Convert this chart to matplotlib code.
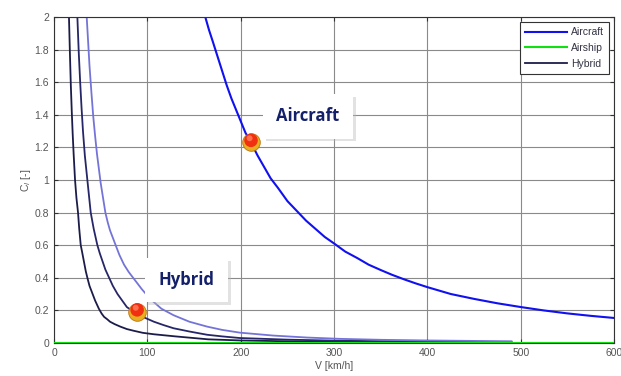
import matplotlib
matplotlib.use("Agg")
import matplotlib.pyplot as plt
import matplotlib.patheffects as pe
from matplotlib.transforms import offset_copy

# values
v_aircraft = [162, 166, 170, 175, 180, 185, 190, 195, 200, 205, 211, 218,
              225, 232, 240, 250, 260, 270, 280, 290, 300, 312, 325, 337,
              350, 362, 375, 387, 400, 425, 450, 475, 500, 525, 550, 575, 600]
cl_aircraft = [2.0, 1.92, 1.85, 1.76, 1.67, 1.58, 1.50, 1.43, 1.36, 1.29,
               1.23, 1.15, 1.08, 1.01, 0.95, 0.87, 0.81, 0.75, 0.70, 0.65,
               0.61, 0.56, 0.52, 0.48, 0.447, 0.418, 0.39, 0.366, 0.342,
               0.30, 0.27, 0.243, 0.22, 0.199, 0.181, 0.166, 0.153]

v_airship = [0, 600]
cl_airship = [0.0, 0.0]

v_hyb_low = [16, 17, 18, 19, 20, 21, 22.5, 24, 25.7, 27, 28.6, 30, 32, 34,
             35.7, 38, 40, 44, 48, 51, 53.6, 57, 60, 65, 71, 78, 85, 95, 107,
             130, 165, 200, 250, 300, 400, 490]
cl_hyb_low = [2.0, 1.78, 1.58, 1.42, 1.28, 1.16, 1.0, 0.89, 0.8, 0.7, 0.6,
              0.56, 0.5, 0.44, 0.4, 0.35, 0.32, 0.26, 0.21, 0.18, 0.16, 0.145,
              0.13, 0.115, 0.10, 0.085, 0.075, 0.062, 0.053, 0.04, 0.022,
              0.015, 0.01, 0.007, 0.004, 0.003]

v_hyb_mid = [25, 26.5, 28, 29.5, 31, 33, 35.7, 37.5, 39.3, 42.5, 46.4, 49,
             52, 55, 59, 63, 68, 73, 78, 83, 89, 97, 107, 117, 128, 145, 164,
             180, 199, 250, 300, 400, 490]
cl_hyb_mid = [2.0, 1.78, 1.6, 1.44, 1.3, 1.15, 1.0, 0.9, 0.8, 0.7, 0.6, 0.55,
              0.5, 0.45, 0.4, 0.35, 0.3, 0.26, 0.22, 0.2, 0.18, 0.155, 0.13,
              0.11, 0.09, 0.07, 0.05, 0.04, 0.03, 0.02, 0.014, 0.008, 0.005]

v_hyb_high = [35, 36.5, 38, 40, 42, 44, 46, 48, 50, 52.5, 55, 57.5, 60, 63,
              66, 70, 75, 80, 86, 94, 103, 115, 128, 145, 164, 180, 199, 235,
              271, 306, 350, 400, 490]
cl_hyb_high = [2.0, 1.85, 1.7, 1.54, 1.39, 1.27, 1.16, 1.07, 0.98, 0.89, 0.8,
               0.74, 0.69, 0.645, 0.6, 0.54, 0.48, 0.435, 0.39, 0.33, 0.27,
               0.21, 0.17, 0.13, 0.10, 0.08, 0.063, 0.045, 0.033, 0.025,
               0.019, 0.015, 0.01]

x_ticks = [0, 100, 200, 300, 400, 500, 600]
y_ticks = [0, 0.2, 0.4, 0.6, 0.8, 1, 1.2, 1.4, 1.6, 1.8, 2]
y_labels = ["0", "0.2", "0.4", "0.6", "0.8", "1", "1.2", "1.4", "1.6", "1.8", "2"]

# design points with callouts
pts = [(211, 1.23, "Aircraft", 272, 1.39), (89, 0.19, "Hybrid", 142, 0.385)]

plt.rcParams['font.family'] = ['Liberation Sans', 'DejaVu Sans']

fig = plt.figure(figsize=(6.21, 3.76), dpi=100)
ax = fig.add_axes([0.087, 0.088, 0.902, 0.867])

ax.plot(v_aircraft, cl_aircraft, color='#1010f0', lw=1.5, label='Aircraft')
ax.plot(v_airship, cl_airship, color='#10e010', lw=1.5, label='Airship', zorder=4)
ax.plot(v_hyb_low, cl_hyb_low, color='#1c1c4a', lw=1.3, label='Hybrid')
ax.plot(v_hyb_mid, cl_hyb_mid, color='#262668', lw=1.3)
ax.plot(v_hyb_high, cl_hyb_high, color='#7474d8', lw=1.3)

ax.set_xlim(0, 600)
ax.set_ylim(0, 2)
ax.set_xticks(x_ticks)
ax.set_yticks(y_ticks)
ax.set_yticklabels(y_labels)
ax.grid(True, color='#8a8a8a', lw=0.8, ls='-')
ax.tick_params(direction='in', top=True, right=True, labelsize=7.5,
               labelcolor='#555555', length=3, color='#333333')
for s in ax.spines.values():
    s.set_color('#333333')
ax.set_xlabel("V [km/h]", fontsize=7.5, color='#555555', labelpad=2)
ax.set_ylabel("C$_l$ [-]", fontsize=7.5, color='#555555', labelpad=1)

leg = ax.legend(loc='upper right', fontsize=7.5, handlelength=4,
                fancybox=False, framealpha=1, borderaxespad=0.5,
                labelspacing=0.55, handletextpad=0.4, borderpad=0.5)
leg.get_frame().set_edgecolor('#333333')
leg.get_frame().set_linewidth(0.8)
for t in leg.get_texts():
    t.set_color('#333344')

for vx, cy, name, tx, ty in pts:
    t = ax.text(tx, ty, name, fontsize=12, fontweight='bold', color='#14206a',
                ha='center', va='center', zorder=6,
                family=['Open Sans', 'DejaVu Sans'],
                bbox=dict(boxstyle='square,pad=0.8', fc='white', ec='none'))
    t.get_bbox_patch().set_path_effects(
        [pe.withSimplePatchShadow(offset=(2, -2), shadow_rgbFace='#b8b8b8',
                                  alpha=0.4), pe.Normal()])
    # shaded ball marker: yellow base, red top
    ax.scatter([vx], [cy], s=160, color='#e8b020', edgecolors='#c07010',
               linewidths=0.6, zorder=7)
    tr = offset_copy(ax.transData, fig=fig, x=0, y=1.5, units='points')
    ax.scatter([vx], [cy], s=95, color='#f03010', edgecolors='none',
               zorder=8, transform=tr)
    tr2 = offset_copy(ax.transData, fig=fig, x=-1, y=3, units='points')
    ax.scatter([vx], [cy], s=18, color='#ff7050', edgecolors='none',
               zorder=9, transform=tr2)

fig.savefig("out.png", dpi=100)
